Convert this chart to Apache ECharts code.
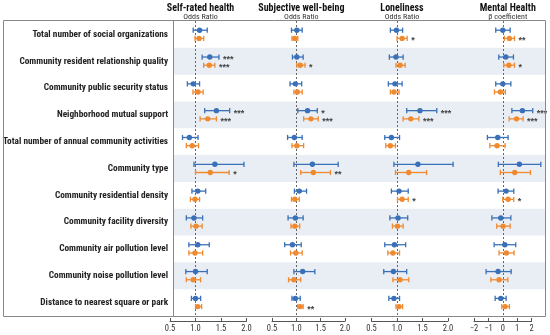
<!DOCTYPE html>
<html><head><meta charset="utf-8">
<script src="https://cdn.jsdelivr.net/npm/echarts/dist/echarts.min.js"></script>
<style>html,body{margin:0;padding:0;background:#fff}#c{width:550px;height:335px}</style>
</head><body><div id="c"></div>
<script>
const categories = [
  'Total number of social organizations',
  'Community resident relationship quality',
  'Community public security status',
  'Neighborhood mutual support',
  'Total number of annual community activities',
  'Community type',
  'Community residential density',
  'Community facility diversity',
  'Community air pollution level',
  'Community noise pollution level',
  'Distance to nearest square or park'
];
const panelTitles = ['Self-rated health', 'Subjective well-being', 'Loneliness', 'Mental Health'];
const panelSubtitles = ['Odds Ratio', 'Odds Ratio', 'Odds Ratio', 'β coefficient'];

// [estimate, lower, upper] — blue (A) and orange (B)
const srhA = [[1.08,0.955,1.23],[1.28,1.13,1.46],[0.955,0.84,1.08],[1.41,1.18,1.67],[0.88,0.745,1.05],[1.38,0.97,1.95],[1.045,0.93,1.20],[0.97,0.82,1.14],[1.045,0.87,1.27],[1.0,0.81,1.23],[1.0,0.92,1.10]];
const srhB = [[1.07,0.99,1.16],[1.27,1.16,1.38],[1.05,0.95,1.15],[1.24,1.09,1.41],[0.935,0.82,1.06],[1.29,1.0,1.66],[0.99,0.90,1.08],[1.01,0.91,1.13],[0.99,0.87,1.14],[0.955,0.82,1.10],[1.045,1.0,1.12]];
const swbA = [[1.01,0.90,1.12],[1.01,0.92,1.14],[0.98,0.87,1.11],[1.23,1.03,1.43],[0.96,0.82,1.12],[1.33,0.95,1.86],[1.06,0.96,1.21],[0.98,0.83,1.14],[0.92,0.76,1.10],[1.13,0.95,1.38],[0.98,0.91,1.08]];
const swbB = [[0.97,0.91,1.03],[1.08,1.01,1.18],[1.02,0.95,1.12],[1.30,1.15,1.45],[1.01,0.91,1.15],[1.35,1.09,1.70],[0.97,0.90,1.06],[0.97,0.89,1.07],[0.99,0.88,1.12],[0.95,0.84,1.09],[1.08,1.03,1.14]];
const lonA = [[0.99,0.87,1.11],[0.98,0.85,1.12],[0.96,0.83,1.10],[1.45,1.19,1.78],[0.89,0.76,1.05],[1.41,0.94,2.10],[1.04,0.89,1.22],[1.02,0.86,1.21],[0.95,0.76,1.17],[0.93,0.74,1.19],[0.94,0.84,1.05]];
const lonB = [[1.10,1.0,1.20],[1.06,0.98,1.16],[0.94,0.87,1.04],[1.27,1.12,1.43],[0.87,0.78,0.97],[1.23,0.97,1.58],[1.10,1.01,1.22],[1.01,0.91,1.12],[0.92,0.82,1.05],[1.06,0.92,1.23],[1.04,0.98,1.11]];
const mhA = [[0.0,-0.49,0.51],[0.21,-0.28,0.74],[0.0,-0.49,0.56],[1.36,0.63,2.08],[-0.35,-1.07,0.37],[1.15,-0.31,2.64],[0.23,-0.33,0.76],[-0.14,-0.76,0.56],[0.14,-0.60,0.90],[-0.33,-1.16,0.58],[-0.14,-0.53,0.23]];
const mhB = [[0.46,0.11,0.81],[0.42,0.07,0.81],[-0.17,-0.58,0.18],[0.95,0.44,1.41],[-0.40,-0.90,0.16],[0.83,-0.17,1.92],[0.37,0.0,0.76],[0.02,-0.42,0.51],[0.25,-0.26,0.78],[-0.26,-0.83,0.35],[0.16,-0.07,0.46]];

const srhStarsA = ['','***','','***','','','','','','',''];
const srhStarsB = ['','***','','***','','*','','','','',''];
const swbStarsA = ['','','','*','','','','','','',''];
const swbStarsB = ['','*','','***','','**','','','','','**'];
const lonStarsA = ['','','','***','','','','','','',''];
const lonStarsB = ['*','','','***','','','*','','','',''];
const mhStarsA  = ['','','','***','','','','','','',''];
const mhStarsB  = ['**','*','','***','','','*','','','',''];

const odds = [0.5, 1.0, 1.5, 2.0];
const beta = [-2, -1, 0, 1, 2];

const FONT = '"Liberation Sans Narrow", "Roboto Condensed", "Liberation Sans", sans-serif';
const BLUE = '#3a70b8', ORANGE = '#f08a30';

const panels = [
  {left:170,   width:76.5, ticks:odds, ref:1, A:srhA, B:srhB, sA:srhStarsA, sB:srhStarsB},
  {left:272,   width:73,   ticks:odds, ref:1, A:swbA, B:swbB, sA:swbStarsA, sB:swbStarsB},
  {left:371.5, width:76.5, ticks:odds, ref:1, A:lonA, B:lonB, sA:lonStarsA, sB:lonStarsB},
  {left:474,   width:57.6, ticks:beta, ref:0, A:mhA,  B:mhB,  sA:mhStarsA,  sB:mhStarsB}
];

function errSeries(gi, vals, stars, color, dy) {
  return {
    type:'custom', xAxisIndex:gi, yAxisIndex:gi, clip:false, silent:true, z:5,
    data: vals.map((v,i)=>[v[0], i, v[1], v[2]]),
    encode:{x:[0,2,3], y:1},
    renderItem:function(params, api){
      const ci = api.value(1);
      const c = api.coord([api.value(0), ci]);
      const lo = api.coord([api.value(2), ci]);
      const hi = api.coord([api.value(3), ci]);
      const y = c[1] + dy;
      const ls = {stroke:color, lineWidth:1.3};
      const ch = [
        {type:'line', shape:{x1:lo[0], y1:y, x2:hi[0], y2:y}, style:ls},
        {type:'line', shape:{x1:lo[0], y1:y-2.6, x2:lo[0], y2:y+2.6}, style:ls},
        {type:'line', shape:{x1:hi[0], y1:y-2.6, x2:hi[0], y2:y+2.6}, style:ls},
        {type:'circle', shape:{cx:c[0], cy:y, r:2.7}, style:{fill:color}}
      ];
      const s = stars[params.dataIndex];
      if (s) ch.push({type:'text', style:{text:s, x:hi[0]+4, y:y+2.5, align:'left', verticalAlign:'middle', fill:'#444', font:'bold 9px "Liberation Sans", sans-serif'}});
      return {type:'group', children:ch};
    }
  };
}

const grid = [{left:165, top:21, width:381, height:295}];
const xAxis = [{gridIndex:0, type:'value', show:false, min:0, max:1}];
const yAxis = [{gridIndex:0, type:'category', data:categories, inverse:true,
  axisLine:{show:true, lineStyle:{color:'#888'}}, axisTick:{show:false},
  axisLabel:{margin:5, color:'#222', fontSize:9.3, fontWeight:'bold', fontFamily:FONT},
  splitLine:{show:false},
  splitArea:{show:true, areaStyle:{color:['rgba(255,255,255,0)','#e9eef4']}}}];
const series = [];
const title = [];
panels.forEach((p, k) => {
  const gi = k + 1;
  grid.push({left:p.left, top:21, width:p.width, height:295});
  const mn = p.ticks[0], mx = p.ticks[p.ticks.length-1];
  xAxis.push({gridIndex:gi, type:'value', min:mn, max:mx, interval:p.ticks[1]-p.ticks[0], offset:5,
    axisLine:{show:true, lineStyle:{color:'#555'}},
    axisTick:{show:true, inside:true, length:3, lineStyle:{color:'#555'}},
    axisLabel:{fontSize:8.5, color:'#333', margin:3, fontFamily:FONT,
      formatter: p.ref === 1 ? (v=>v.toFixed(1)) : (v=>(v<0?'−':'')+Math.abs(v))},
    splitLine:{show:false}});
  yAxis.push({gridIndex:gi, type:'category', data:categories, inverse:true, show:false});
  series.push({type:'line', xAxisIndex:gi, yAxisIndex:gi, data:[], silent:true, z:3,
    markLine:{silent:true, symbol:['none','none'], label:{show:false},
      lineStyle:{type:[2,2], color:'#666', width:1}, data:[{xAxis:p.ref}]}});
  series.push(errSeries(gi, p.A, p.sA, BLUE, -4.2));
  series.push(errSeries(gi, p.B, p.sB, ORANGE, 4));
  const cx = p.left + (p.ref - mn) / (mx - mn) * p.width;
  title.push({text:panelTitles[k], subtext:panelSubtitles[k], left:cx, top:-2, textAlign:'center', itemGap:0,
    textStyle:{fontSize:10, fontWeight:'bold', color:'#111', fontFamily:FONT},
    subtextStyle:{fontSize:8, color:'#333', fontFamily:FONT}});
});

const chart = echarts.init(document.getElementById('c'), null, {renderer:'canvas'});
chart.setOption({
  animation:false,
  backgroundColor:'#fff',
  title, grid, xAxis, yAxis, series,
  graphic:[{type:'rect', shape:{x:3.5, y:20.5, width:542, height:296}, style:{fill:null, stroke:'#888', lineWidth:1}, z:100, silent:true}]
});
</script>
</body></html>
